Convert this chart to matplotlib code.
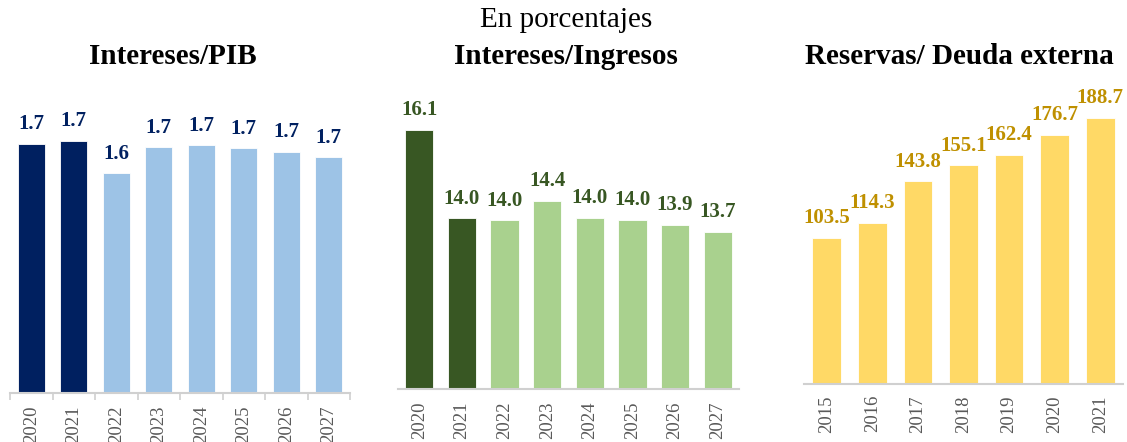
import matplotlib
matplotlib.use("Agg")
import matplotlib.pyplot as plt

plt.rcParams['font.family'] = ['Liberation Serif', 'DejaVu Serif']

# Panel 1: Intereses/PIB
years1 = ['2020', '2021', '2022', '2023', '2024', '2025', '2026', '2027']
pib_vals = [1.722, 1.735, 1.580, 1.705, 1.714, 1.700, 1.682, 1.656]

# Panel 2: Intereses/Ingresos
years2 = ['2020', '2021', '2022', '2023', '2024', '2025', '2026', '2027']
ing_vals = [16.1, 14.01, 13.96, 14.42, 14.02, 13.97, 13.86, 13.69]

# Panel 3: Reservas/ Deuda externa
years3 = ['2015', '2016', '2017', '2018', '2019', '2020', '2021']
res_vals = [103.5, 114.3, 143.8, 155.1, 162.4, 176.7, 188.7]

W, H = 1127, 442
fig = plt.figure(figsize=(W / 100, H / 100), dpi=100)


def px_axes(left, right, top, bottom):
    return fig.add_axes([left / W, 1 - bottom / H, (right - left) / W, (bottom - top) / H])


def panel(ax, cats, vals, colors, label_color, ylim, width, ticks_between, pad):
    x = range(len(cats))
    ax.bar(x, vals, width=width, color=colors, edgecolor='white', linewidth=0.6, zorder=2)
    ax.set_ylim(*ylim)
    ax.set_xlim(-0.5, len(cats) - 0.5)
    for xi, v in zip(x, vals):
        ax.annotate(f"{v:.1f}", (xi, v), xytext=(0, 7), textcoords='offset points',
                    ha='center', va='bottom', fontsize=15, fontweight='bold',
                    color=label_color, annotation_clip=False)
    for s in ['top', 'right', 'left']:
        ax.spines[s].set_visible(False)
    ax.spines['bottom'].set_color('#d0d0d0')
    ax.spines['bottom'].set_linewidth(1.5)
    ax.set_yticks([])
    ax.set_xticks(list(x))
    ax.set_xticklabels(cats, rotation=90, fontsize=13.5, color='#595959')
    ax.tick_params(axis='x', length=0, pad=pad)
    if ticks_between:
        ax.set_xticks([i - 0.5 for i in range(len(cats) + 1)], minor=True)
        ax.tick_params(axis='x', which='minor', length=5, color='#d0d0d0', width=1.2)
    ax.patch.set_alpha(0)


navy = '#002060'
lblue = '#9DC3E6'
dgreen = '#385723'
lgreen = '#A9D18E'
yellow = '#FFD966'
gold = '#BF9000'

ax1 = px_axes(10, 350, 100, 392.7)
panel(ax1, years1, pib_vals, [navy, navy] + [lblue] * 6, navy, (0.525, 1.932), 0.64, True, 9)

ax2 = px_axes(398, 739, 100, 389.3)
panel(ax2, years2, ing_vals, [dgreen, dgreen] + [lgreen] * 6, dgreen, (9.98, 16.8), 0.66, False, 9)

ax3 = px_axes(804, 1123, 100, 384)
panel(ax3, years3, res_vals, [yellow] * 7, gold, (0, 201.4), 0.63, False, 8)

fig.text(566 / W, 1 - 20 / H, 'En porcentajes', ha='center', va='center', fontsize=21)
fig.text(173 / W, 1 - 57 / H, 'Intereses/PIB', ha='center', va='center', fontsize=21, fontweight='bold')
fig.text(566 / W, 1 - 57 / H, 'Intereses/Ingresos', ha='center', va='center', fontsize=21, fontweight='bold')
fig.text(959 / W, 1 - 57 / H, 'Reservas/ Deuda externa', ha='center', va='center', fontsize=21, fontweight='bold')

fig.savefig('out.png', dpi=100, facecolor='white')
